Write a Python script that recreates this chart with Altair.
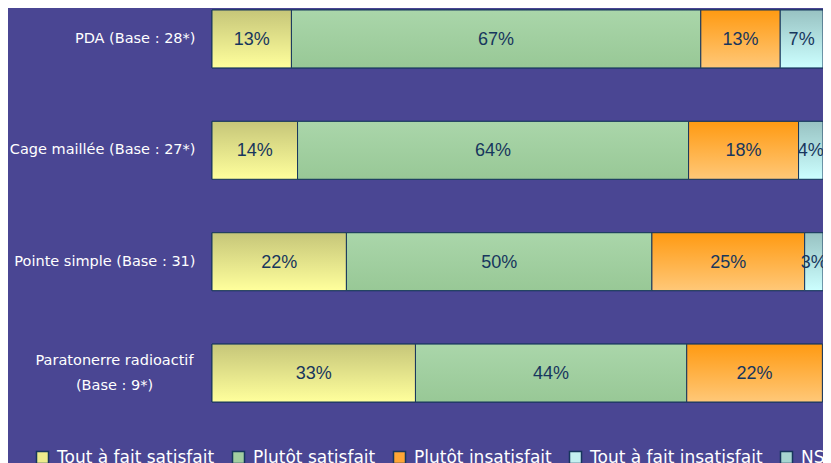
import altair as alt
import pandas as pd

categories = [
    "PDA (Base : 28*)",
    "Cage maillée (Base : 27*)",
    "Pointe simple (Base : 31)",
    "Paratonerre radioactif\n(Base : 9*)",
]
series = ["Tout à fait satisfait", "Plutôt satisfait", "Plutôt insatisfait",
          "Tout à fait insatisfait", "NSP"]
tout_satisfait = [13, 14, 22, 33.3]
plutot_satisfait = [67, 64, 50, 44.4]
plutot_insatisfait = [13, 18, 25, 22.2]
tout_insatisfait = [7, 4, 3, 0]
nsp = [0, 0, 0, 0]

legend_colors = ["#ecec8c", "#a2cea0", "#ffa635", "#c4f0f0", "#a6d6d0"]
gradients = {
    "Tout à fait satisfait": ("#c6c679", "#ffff9c"),
    "Plutôt satisfait": ("#aad6aa", "#98c896"),
    "Plutôt insatisfait": ("#ff9a12", "#ffc878"),
    "Tout à fait insatisfait": ("#98c2c2", "#ccffff"),
    "NSP": ("#98c8c0", "#ccfff4"),
}

rows = []
for i, cat in enumerate(categories):
    for j, (s, vals) in enumerate(zip(series, [tout_satisfait, plutot_satisfait,
                                                plutot_insatisfait, tout_insatisfait, nsp])):
        rows.append({"category": cat, "series": s, "order": j, "value": vals[i]})
df = pd.DataFrame(rows)

navy = "#17365d"
multi_test = "indexof(datum.value, 'Paratonerre') >= 0"

base = (
    alt.Chart(df)
    .transform_filter("datum.value > 0")
    .transform_stack(stack="value", groupby=["category"], as_=["x0", "x1"],
                     sort=[alt.SortField("order", order="ascending")])
)

Y = alt.Y(
    "category:N", sort=categories,
    scale=alt.Scale(paddingInner=0.48, paddingOuter=0),
    axis=alt.Axis(
        title=None, labelExpr="split(datum.label, '\\n')", ticks=False,
        domain=False, labelColor="white", labelLimit=400,
        labelFont="DejaVu Sans", labelFontSize=14.5, labelLineHeight=25,
        labelBaseline="middle",
        labelPadding={"condition": {"test": multi_test, "value": 98}, "value": 17},
        labelAlign={"condition": {"test": multi_test, "value": "center"}, "value": "right"},
        labelOffset={"condition": {"test": multi_test, "value": -12}, "value": 0},
    ),
)
X = alt.X("x0:Q", scale=alt.Scale(domain=[0, 100], nice=False, zero=True), axis=None)

legend_layer = base.mark_bar(stroke=navy, strokeWidth=1).encode(
    y=Y, x=X, x2="x1:Q",
    color=alt.Color(
        "series:N",
        scale=alt.Scale(domain=series, range=legend_colors),
        legend=alt.Legend(
            title=None, orient="none", legendX=-178, legendY=439,
            direction="horizontal", columns=5, gridAlign="none",
            symbolType="square", symbolSize=144, symbolStrokeColor=navy,
            symbolStrokeWidth=1.5, symbolOpacity=1,
            labelColor="white", labelFont="DejaVu Sans", labelFontSize=17,
            labelOffset=6, columnPadding=14, labelLimit=400,
        ),
    ),
)

layers = [legend_layer]
for s in series:
    top, bottom = gradients[s]
    grad = {
        "gradient": "linear", "x1": 0, "y1": 0, "x2": 0, "y2": 1,
        "stops": [{"offset": 0, "color": top}, {"offset": 1, "color": bottom}],
    }
    layers.append(
        base.transform_filter(alt.datum.series == s)
        .mark_bar(fill=grad, stroke=navy, strokeWidth=1)
        .encode(y=Y, x=X, x2="x1:Q")
    )

text_layer = (
    base.transform_calculate(
        mid="(datum.x0 + datum.x1) / 2",
        label="format(datum.value, '.0f') + '%'",
    )
    .mark_text(font="Liberation Sans", fontSize=18, color=navy,
               align="center", baseline="middle", dy=1)
    .encode(y=Y, x=alt.X("mid:Q", scale=alt.Scale(domain=[0, 100], nice=False), axis=None),
            text="label:N")
)
layers.append(text_layer)

chart = (
    alt.layer(*layers)
    .properties(
        width=611, height=392,
        autosize=alt.AutoSizeParams(type="none"),
        padding={"left": 204, "top": 2, "right": 0, "bottom": 61},
        background="#4a4693",
    )
    .configure_view(stroke=None)
)

chart.save("out.html", embed_options={"renderer": "svg", "actions": False})
